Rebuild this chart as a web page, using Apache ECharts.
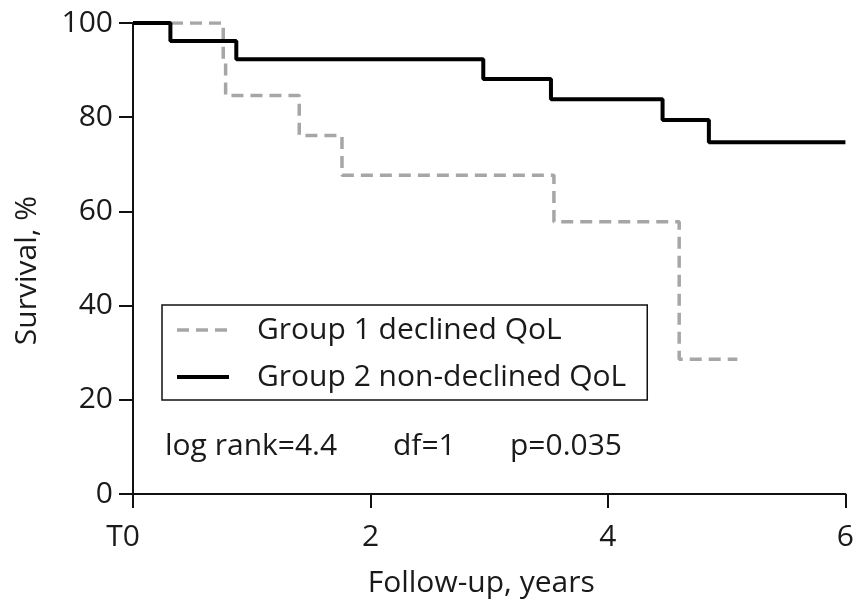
<!DOCTYPE html>
<html>
<head>
<meta charset="utf-8">
<script src="https://cdn.jsdelivr.net/npm/echarts@6/dist/echarts.min.js"></script>
<style>html,body{margin:0;padding:0;background:#fff}#c{width:857px;height:603px}</style>
</head>
<body>
<div id="c"></div>
<script>
// Data
const seriesNames = ['Group 1 declined QoL', 'Group 2 non-declined QoL'];
const group1Times = [0, 0.76, 0.78, 1.40, 1.76, 3.545, 4.60, 5.09];
const group1Surv  = [100, 92.3, 84.6, 76.1, 67.7, 57.8, 28.6, 28.6];
const group2Times = [0, 0.315, 0.87, 2.95, 3.52, 4.46, 4.85, 6.0];
const group2Surv  = [100, 96.2, 92.3, 88.1, 83.8, 79.4, 74.7, 74.7];
const xTicks = [0, 2, 4, 6];
const xTickLabels = ['T0', '2', '4', '6'];
const statsText = ['log rank=4.4', 'df=1', 'p=0.035'];

const FONT = 'Open Sans';
const pair = (t, s) => t.map((v, i) => [v, s[i]]);

const chart = echarts.init(document.getElementById('c'), null, {renderer: 'canvas'});
chart.setOption({
  animation: false,
  backgroundColor: '#fff',
  grid: {left: 133, right: 7, top: 23, bottom: 104},
  xAxis: {
    type: 'value', min: 0, max: 6, interval: 2,
    name: 'Follow-up, years', nameLocation: 'middle', nameGap: 74,
    nameTextStyle: {fontFamily: FONT, fontSize: 30, color: '#1a1a1a', padding: [0, 16, 0, 0]},
    axisLine: {lineStyle: {color: '#111', width: 2}},
    axisTick: {show: true, length: 14, lineStyle: {color: '#111', width: 2}},
    axisLabel: {fontFamily: FONT, fontSize: 30, color: '#1a1a1a', margin: 28,
      formatter: v => {
        const i = xTicks.indexOf(v);
        if (i < 0) return '';
        return i === 0 ? '{t|' + xTickLabels[i] + '}' : xTickLabels[i];
      },
      rich: {t: {fontFamily: FONT, fontSize: 30, color: '#1a1a1a', padding: [0, 20, 0, 0]}}
    },
    splitLine: {show: false}
  },
  yAxis: {
    type: 'value', min: 0, max: 100, interval: 20,
    name: 'Survival, %', nameLocation: 'middle', nameGap: 91, nameRotate: 90,
    nameTextStyle: {fontFamily: FONT, fontSize: 30, color: '#1a1a1a', padding: [0, 24, 0, 0]},
    axisLine: {show: true, lineStyle: {color: '#111', width: 2}},
    axisTick: {show: true, length: 14, lineStyle: {color: '#111', width: 2}},
    axisLabel: {fontFamily: FONT, fontSize: 30, color: '#1a1a1a', margin: 20},
    splitLine: {show: false}
  },
  legend: {
    orient: 'vertical', left: 162, top: 305,
    data: seriesNames,
    itemWidth: 52, itemHeight: 14, itemGap: 17,
    padding: [10, 21, 8, 13],
    borderColor: '#111', borderWidth: 1.5,
    itemStyle: {color: 'rgba(0,0,0,0)', borderColor: 'rgba(0,0,0,0)', borderWidth: 0},
    lineStyle: {width: 'inherit', type: 'inherit', color: 'inherit'},
    textStyle: {fontFamily: FONT, fontSize: 30, color: '#1a1a1a', padding: [0, 0, 0, 23]}
  },
  graphic: [
    {type: 'text', left: 165, top: 431, style: {text: statsText[0], font: '30px "Open Sans"', fill: '#1a1a1a'}},
    {type: 'text', left: 393, top: 431, style: {text: statsText[1], font: '30px "Open Sans"', fill: '#1a1a1a'}},
    {type: 'text', left: 510, top: 431, style: {text: statsText[2], font: '30px "Open Sans"', fill: '#1a1a1a'}}
  ],
  series: [
    {
      name: seriesNames[0], type: 'line', step: 'end', showSymbol: false, symbol: 'none',
      data: pair(group1Times, group1Surv),
      lineStyle: {color: '#a6a6a6', width: 3.5, type: [12, 7]},
      itemStyle: {color: '#a6a6a6'},
      z: 2
    },
    {
      name: seriesNames[1], type: 'line', step: 'end', showSymbol: false, symbol: 'none',
      data: pair(group2Times, group2Surv),
      lineStyle: {color: '#000', width: 4},
      itemStyle: {color: '#000'},
      z: 3
    }
  ]
});
</script>
</body>
</html>
